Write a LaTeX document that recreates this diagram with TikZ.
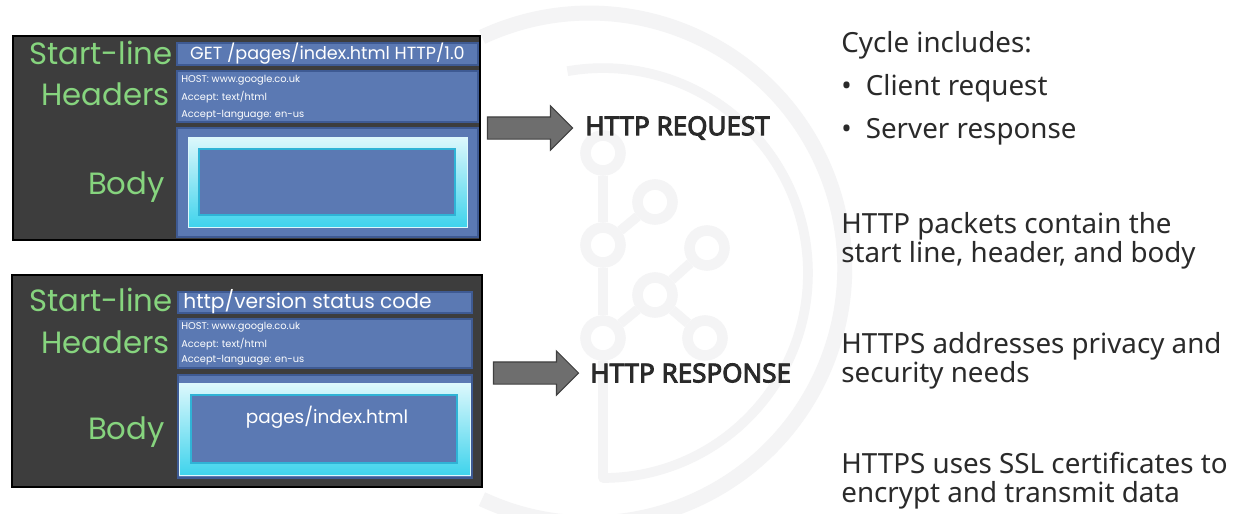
\documentclass[tikz,border=0pt]{standalone}
\usepackage{fontspec}
\setmainfont{Noto Sans}
\newfontfamily\titlefont{Noto Sans}[FakeBold=3.6]
\newfontfamily\chalkfont{Poppins}
\usetikzlibrary{fit, shapes.arrows}

\definecolor{boardgray}{HTML}{3D3D3D}
\definecolor{chalk}{HTML}{86D47E}
\definecolor{boxblue}{HTML}{5B79B3}
\definecolor{boxedge}{HTML}{3E5A93}
\definecolor{glowtop}{HTML}{DDF8FC}
\definecolor{glowbot}{HTML}{3FD3EC}
\definecolor{glowedge}{HTML}{2FB3D6}
\definecolor{arrowgray}{HTML}{6E6E6E}
\definecolor{ink}{HTML}{2A2A2A}
\definecolor{logogray}{HTML}{F4F4F5}

\tikzstyle{chalkboard} = [draw=black, line width=0.8pt, fill=boardgray, inner sep=0pt]
\tikzstyle{field} = [draw=boxedge, line width=0.6pt, fill=boxblue, inner sep=0pt]
\tikzstyle{glow} = [top color=glowtop, bottom color=glowbot, draw=glowtop, inner sep=0pt]
\tikzstyle{chalklabel} = [text=chalk, font=\chalkfont\fontsize{17.5}{17.5}\selectfont, anchor=east, inner sep=0pt]
\tikzstyle{linetext} = [text=white, font=\chalkfont\fontsize{10}{10}\selectfont, inner sep=0pt]
\tikzstyle{hdrtext} = [text=white, font=\chalkfont\fontsize{5.6}{5.6}\selectfont, anchor=west, inner sep=0pt]
\tikzstyle{bigarrow} = [single arrow, draw=black!75, line width=0.6pt, fill=arrowgray, minimum height=1.7cm, inner xsep=0pt, inner ysep=0.21cm, single arrow head extend=0.22cm]
\tikzstyle{title} = [text=ink, font=\titlefont\fontsize{14.8}{14.8}\selectfont, anchor=west, inner sep=0pt]
\tikzstyle{point} = [text=ink, font=\fontsize{15.8}{16.5}\selectfont, anchor=base west, align=left, inner sep=0pt]
\tikzstyle{logo dot} = [circle, draw=logogray, line width=6pt, minimum size=0.7cm, inner sep=0pt]
\tikzstyle{logo line} = [draw=logogray, line width=5.5pt]

\begin{document}
\begin{tikzpicture}[x=0.02cm, y=-0.02cm]
\useasboundingbox[fill=white] (0,0) rectangle (1242,514);

% faint logo behind the slide
\coordinate (ringtop) at (482,37);
\draw[logo line, line width=8.5pt] (ringtop) arc[start angle=115, end angle=-115, radius=5.1cm];
\node[logo dot] (t1) at (603,153) {};
\node[logo dot] (t2) at (655,202) {};
\node[logo dot] (t3) at (603,245) {};
\node[logo dot] (t4) at (707,248) {};
\node[logo dot] (t5) at (655,295) {};
\node[logo dot] (t6) at (603,338) {};
\node[logo dot] (t7) at (705,338) {};
\coordinate (trunk) at (603,478);
\draw[logo line] (t1) -- (t3);
\draw[logo line] (t2) -- (t3);
\draw[logo line] (t3) -- (t6);
\draw[logo line] (t4) -- (t5);
\draw[logo line] (t5) -- (t6);
\draw[logo line] (t5) -- (t7);
\draw[logo line, line join=round] (t6) -- (trunk) arc[start angle=-90, end angle=100, radius=4.1cm];

% request packet
\node[chalkboard, fit={(13,36) (480,240)}] (reqboard) {};
\node[field, fit={(177,43) (478,65)}] (reqstart) {};
\node[field, fit={(177,71) (478,122)}] (reqhead) {};
\node[field, fit={(177,128) (478,237)}] (reqbody) {};
\node[glow, fit={(188,137) (467,227)}] (reqglow) {};
\node[field, draw=glowedge, fit={(199,149) (455,215)}] (reqinner) {};
\node[linetext] (reqline) at (reqstart) {GET /pages/index.html HTTP/1.0};
\node[hdrtext] (reqhost) at (181,80) {HOST: www.google.co.uk};
\node[hdrtext] (reqaccept) at (181,97) {Accept: text/html};
\node[hdrtext] (reqlang) at (181,115) {Accept-language: en-us};
\node[chalklabel] (reqstartlbl) at (173,53) {Start-line};
\node[chalklabel] (reqheadlbl) at (170,94) {Headers};
\node[chalklabel] (reqbodylbl) at (165,187) {Body};

% response packet
\node[chalkboard, fit={(12,275) (482,487)}] (resboard) {};
\node[field, fit={(178,292) (472,313)}] (resstart) {};
\node[field, fit={(178,319) (472,368)}] (reshead) {};
\node[field, fit={(178,375) (472,478)}] (resbody) {};
\node[glow, fit={(179,383) (470,475)}] (resglow) {};
\node[field, draw=glowedge, fit={(191,395) (457,463)}] (resinner) {};
\node[linetext, anchor=west, font=\chalkfont\fontsize{11.5}{11.5}\selectfont] (resline) at (183,302) {http/version status code};
\node[hdrtext] (reshost) at (181,327) {HOST: www.google.co.uk};
\node[hdrtext] (resaccept) at (181,344) {Accept: text/html};
\node[hdrtext] (reslang) at (181,360) {Accept-language: en-us};
\node[linetext, font=\chalkfont\fontsize{10.5}{10.5}\selectfont] (respage) at (327,417) {pages/index.html};
\node[chalklabel] (resstartlbl) at (173,300) {Start-line};
\node[chalklabel] (resheadlbl) at (170,342) {Headers};
\node[chalklabel] (resbodylbl) at (165,432) {Body};

% arrows and names
\node[bigarrow] (reqarrow) at (524.5,128) {};
\node[title] (reqtitle) at (585,128) {HTTP REQUEST};
\node[bigarrow] (resarrow) at (530.5,373) {};
\node[title] (restitle) at (590,373) {HTTP RESPONSE};

% notes on the right
\node[point] (cycle) at (841,52) {Cycle includes:};
\node[point] (client) at (841,95) {\textbullet\hspace{8pt}Client request};
\node[point] (server) at (841,138) {\textbullet\hspace{8pt}Server response};
\node[point] (packets) at (841,262) {HTTP packets contain the\\start line, header, and body};
\node[point] (privacy) at (841,382) {HTTPS addresses privacy and\\security needs};
\node[point] (ssl) at (841,502) {HTTPS uses SSL certificates to\\encrypt and transmit data};

\end{tikzpicture}
\end{document}
